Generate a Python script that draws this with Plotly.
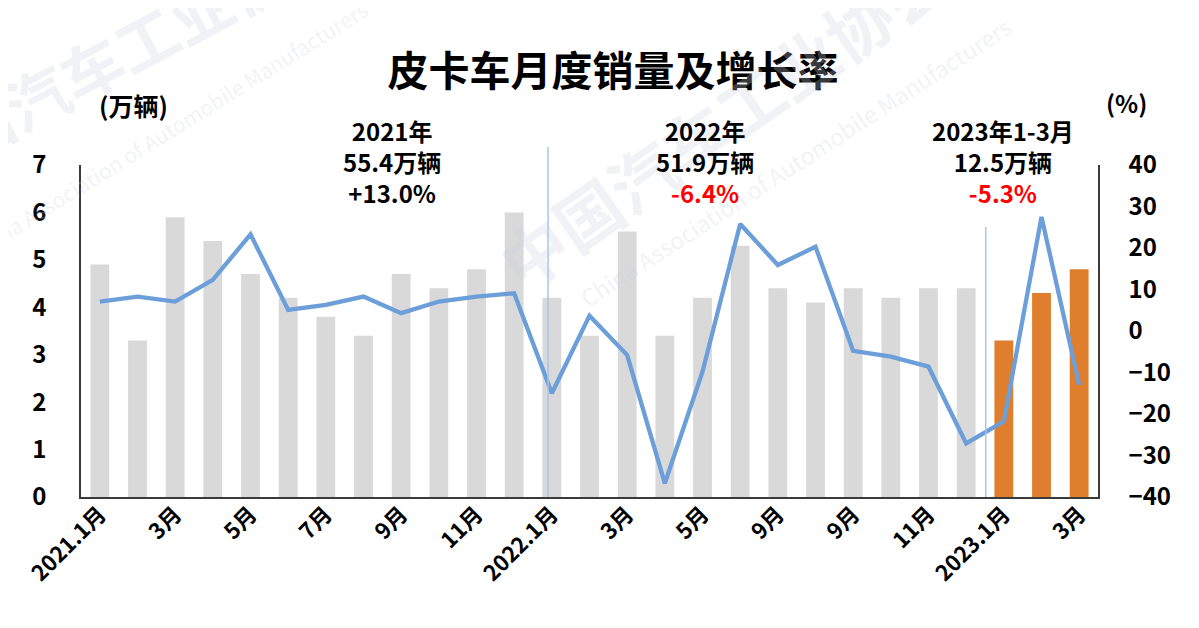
import plotly.graph_objects as go

# ---- data ----
months = ["2021.1", "2021.2", "2021.3", "2021.4", "2021.5", "2021.6", "2021.7", "2021.8", "2021.9",
          "2021.10", "2021.11", "2021.12", "2022.1", "2022.2", "2022.3", "2022.4", "2022.5", "2022.6",
          "2022.7", "2022.8", "2022.9", "2022.10", "2022.11", "2022.12", "2023.1", "2023.2", "2023.3"]
sales = [4.9, 3.3, 5.9, 5.4, 4.7, 4.2, 3.8, 3.4, 4.7, 4.4, 4.8, 6.0,
         4.2, 3.4, 5.6, 3.4, 4.2, 5.3, 4.4, 4.1, 4.4, 4.2, 4.4, 4.4,
         3.3, 4.3, 4.8]
growth = [7.1, 8.3, 7.1, 12.3, 23.3, 5.1, 6.3, 8.3, 4.3, 7.1, 8.3, 9.1,
          -15.0, 3.7, -5.8, -36.7, -9.8, 25.8, 15.9, 20.3, -4.8, -6.2, -8.6, -27.1,
          -21.8, 27.5, -13.0]
tick_idx = [0, 2, 4, 6, 8, 10, 12, 14, 16, 18, 20, 22, 24, 26]
tick_text = ["2021.1月", "3月", "5月", "7月", "9月", "11月", "2022.1月", "3月", "5月",
             "9月", "9月", "11月", "2023.1月", "3月"]
left_ticks = [0, 1, 2, 3, 4, 5, 6, 7]
right_ticks = [-40, -30, -20, -10, 0, 10, 20, 30, 40]

GRAY = "#d9d9d9"
ORANGE = "#df7e2d"
BLUE = "#6c9fd9"
FONT = "Noto Sans CJK SC"

# page has an 8px body margin; figure is sized/offset to compensate
OFF = 8
W, H = 1199 - OFF, 628 - OFF
PL, PR, PT, PB = 81, 1098, 165, 497   # plot area in page pixels

x = list(range(len(months)))
bar_colors = [ORANGE if m.startswith("2023") else GRAY for m in months]

fig = go.Figure()
fig.add_trace(go.Bar(x=x, y=sales, marker=dict(color=bar_colors, line=dict(width=0)),
                     customdata=months, hovertemplate="%{customdata}: %{y}万辆<extra></extra>"))
fig.add_trace(go.Scatter(x=x, y=growth, yaxis="y2", mode="lines",
                         line=dict(color=BLUE, width=4.3), customdata=months,
                         hovertemplate="%{customdata}: %{y}%<extra></extra>"))

xtickfont = dict(family=FONT, size=22, color="#000000", weight="bold")
ytickfont = dict(family=FONT, size=24, color="#000000", weight="bold")

fig.update_layout(
    width=W, height=H,
    margin=dict(l=PL - OFF, r=W - (PR - OFF), t=PT - OFF, b=H - (PB - OFF), autoexpand=False),
    paper_bgcolor="white", plot_bgcolor="white",
    showlegend=False,
    bargap=0.5,
    font=dict(family=FONT),
    title=dict(text="<b>皮卡车月度销量及增长率</b>", x=(613 - OFF) / W, xanchor="center",
               y=1 - (72 - OFF) / H, yanchor="middle",
               font=dict(family=FONT, size=41, color="#000000")),
    xaxis=dict(range=[-0.5, len(months) - 0.5], tickmode="array", tickvals=tick_idx,
               ticktext=tick_text, tickangle=-45, tickfont=xtickfont, automargin=False,
               ticklabelstandoff=-6,
               showgrid=False, zeroline=False, showline=True, linecolor="#3a3a3a",
               linewidth=1.5, ticks="", fixedrange=True),
    yaxis=dict(range=[0, 7], tickmode="array", tickvals=left_ticks, tickfont=ytickfont,
               automargin=False,
               showgrid=False, zeroline=False, showline=True, linecolor="#3a3a3a",
               linewidth=1.5, ticks="outside", ticklen=28, tickcolor="rgba(0,0,0,0)"),
    yaxis2=dict(range=[-40, 40], overlaying="y", side="right", tickmode="array",
                tickvals=right_ticks, tickfont=ytickfont, showgrid=False, zeroline=False,
                automargin=False,
                showline=True, linecolor="#3a3a3a", linewidth=1.5,
                ticks="outside", ticklen=24, tickcolor="rgba(0,0,0,0)"),
)

# divider lines
fig.add_shape(type="line", xref="x", yref="paper", x0=11.9, x1=11.9, y0=0, y1=1.054,
              line=dict(color="#a8c4ea", width=1.5))
fig.add_shape(type="line", xref="x", yref="paper", x0=23.52, x1=23.52, y0=0, y1=0.813,
              line=dict(color="#a8c4ea", width=1.5))


def px_x(px):
    return (px - PL) / (PR - PL)


def px_y(py):
    return (PB - py) / (PB - PT)


# watermark
wm = "rgba(205,210,222,0.28)"
wm_items = [
    ("<b>中国汽车工业协会</b>", 118, 52, -28, 62),
    ("China Association of Automobile Manufacturers", 168, 130, -32, 21),
    ("<b>中国汽车工业协会</b>", 722, 118, -35, 66),
    ("China Association of Automobile Manufacturers", 795, 162, -33, 23),
]
for txt, cx, cy, ang, sz in wm_items:
    fig.add_annotation(text=txt, xref="paper", yref="paper", x=px_x(cx), y=px_y(cy),
                       xanchor="center", yanchor="middle", showarrow=False, textangle=ang,
                       font=dict(family=FONT, size=sz, color=wm))

# unit labels
fig.add_annotation(text="<b>(万辆)</b>", xref="paper", yref="paper", x=px_x(133),
                   y=px_y(105), xanchor="center", yanchor="middle", showarrow=False,
                   font=dict(family=FONT, size=25, color="#000000"))
fig.add_annotation(text="<b>(%)</b>", xref="paper", yref="paper", x=px_x(1126),
                   y=px_y(103), xanchor="center", yanchor="middle", showarrow=False,
                   font=dict(family=FONT, size=24, color="#000000"))

# period summaries
blocks = [
    (392, "2021年", "55.4万辆", "+13.0%", "#000000"),
    (705, "2022年", "51.9万辆", "-6.4%", "#ff0000"),
    (1003, "2023年1-3月", "12.5万辆", "-5.3%", "#ff0000"),
]
for cx, l1, l2, l3, c3 in blocks:
    fig.add_annotation(
        text=f"<b>{l1}<br>{l2}<br><span style='color:{c3}'>{l3}</span></b>",
        xref="paper", yref="paper", x=px_x(cx), y=px_y(161),
        xanchor="center", yanchor="middle", showarrow=False, align="center",
        font=dict(family=FONT, size=24, color="#000000"))

fig.write_html("out.html")
